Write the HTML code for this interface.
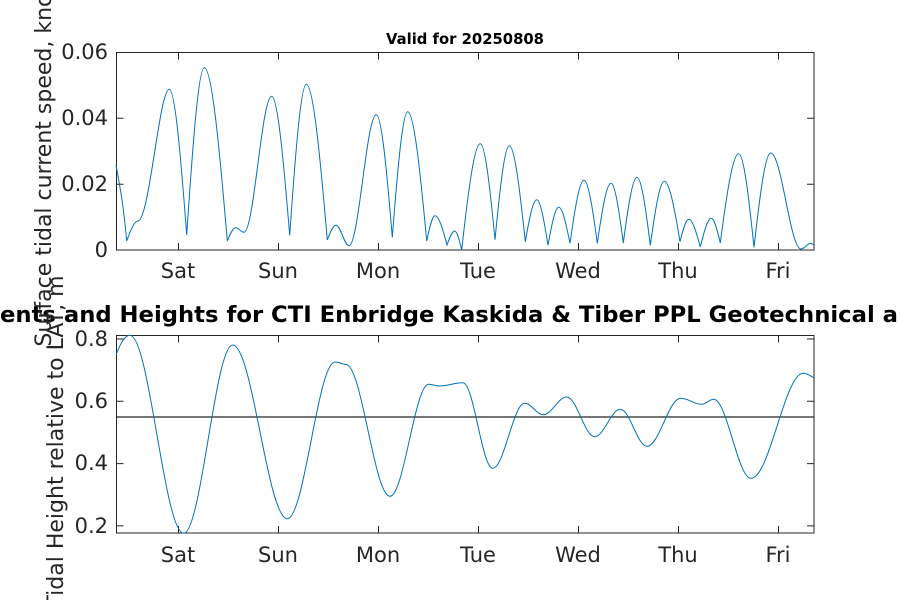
<!DOCTYPE html>
<html><head><meta charset="utf-8"><style>
html,body{margin:0;padding:0;background:#fff;}
svg{display:block;font-family:"DejaVu Sans","Liberation Sans",sans-serif;}
</style></head><body>
<svg width="900" height="600" viewBox="0 0 900 600" xmlns="http://www.w3.org/2000/svg">
<rect width="900" height="600" fill="#fff"/>
<text x="465" y="44" font-size="14.8" font-weight="bold" text-anchor="middle" fill="#000">Valid for 20250808</text>
<g stroke="#262626" stroke-width="1" fill="none">
<rect x="116.5" y="52.5" width="697.5" height="197.5"/>
<path d="M178.5 250v-7M278.5 250v-7M378.5 250v-7M478.5 250v-7M578.5 250v-7M678.5 250v-7M778.5 250v-7M178.5 52.5v7M278.5 52.5v7M378.5 52.5v7M478.5 52.5v7M578.5 52.5v7M678.5 52.5v7M778.5 52.5v7M116.5 52.5h7M116.5 118.3h7M116.5 184.2h7M814 52.5h-7M814 118.3h-7M814 184.2h-7"/>
</g>
<g font-size="21" fill="#262626">
<g text-anchor="end"><text x="108" y="59">0.06</text><text x="108" y="125">0.04</text><text x="108" y="191">0.02</text><text x="108" y="257">0</text></g>
<g text-anchor="middle"><text x="178" y="278">Sat</text><text x="278" y="278">Sun</text><text x="378" y="278">Mon</text><text x="478" y="278">Tue</text><text x="578" y="278">Wed</text><text x="678" y="278">Thu</text><text x="778" y="278">Fri</text></g>
</g>
<g stroke="#262626" stroke-width="1" fill="none">
<rect x="116.5" y="335.5" width="697.5" height="197.5"/>
<path d="M178.5 533v-7M278.5 533v-7M378.5 533v-7M478.5 533v-7M578.5 533v-7M678.5 533v-7M778.5 533v-7M178.5 335.5v7M278.5 335.5v7M378.5 335.5v7M478.5 335.5v7M578.5 335.5v7M678.5 335.5v7M778.5 335.5v7M116.5 339h7M116.5 401.3h7M116.5 463.6h7M116.5 525.9h7M814 339h-7M814 401.3h-7M814 463.6h-7M814 525.9h-7"/>
</g>
<line x1="116.5" y1="417" x2="814" y2="417" stroke="#262626" stroke-width="1.2"/>
<g font-size="21" fill="#262626">
<g text-anchor="end"><text x="108" y="346">0.8</text><text x="108" y="408">0.6</text><text x="108" y="470">0.4</text><text x="108" y="533">0.2</text></g>
<g text-anchor="middle"><text x="178" y="562">Sat</text><text x="278" y="562">Sun</text><text x="378" y="562">Mon</text><text x="478" y="562">Tue</text><text x="578" y="562">Wed</text><text x="678" y="562">Thu</text><text x="778" y="562">Fri</text></g>
</g>
<path fill="none" stroke="#0072bd" stroke-width="1" d="M116 165C119.6 185 123.1 201.2 126.7 241C130.5 230.5 134.2 221 138 221C149.3 221 159.3 89.3 169.3 89.3C175.1 89.3 180.9 158.6 186.7 235C192.6 147.3 198.4 67.7 204.3 67.7C212 67.7 219.6 150.2 227.3 241C230.1 234 232.9 227.7 235.7 227.7C238.7 227.7 241 232.3 244 232.3C254 232.3 261.7 96.3 271.7 96.3C277.7 96.3 283.7 162.5 289.7 235.3C295.2 156.2 300.8 84.3 306.3 84.3C313.3 84.3 320.3 158.4 327.3 240C330.2 232.3 333.1 225.3 336 225.3C340.7 225.3 344.3 245.7 349 245.7C358.8 245.7 366.5 114.7 376.3 114.7C381.6 114.7 387 173.1 392.3 237.3C397.4 171.5 402.6 111.7 407.7 111.7C414 111.7 420.4 173.2 426.7 241C429.5 227.7 432.2 215.7 435 215.7C439 215.7 443 229.6 447 245C449.6 237.7 452.1 231 454.7 231C457 231 459.4 240 461.7 250C467.9 194.3 474.1 143.7 480.3 143.7C485.2 143.7 490.1 189.4 495 239.7C499.8 190.4 504.5 145.7 509.3 145.7C514.6 145.7 520 191.4 525.3 241.7C529.1 219.7 532.9 199.7 536.7 199.7C540.5 199.7 544.2 221.4 548 245.3C551.6 225.4 555.1 207.3 558.7 207.3C562.5 207.3 566.2 224.4 570 243.3C574.7 210.3 579.3 180.3 584 180.3C588.4 180.3 592.9 210.3 597.3 243.3C601.9 211.9 606.4 183.3 611 183.3C615.1 183.3 619.2 211.7 623.3 243C627.9 208.6 632.4 177.3 637 177.3C641.4 177.3 645.9 209.7 650.3 245.3C655 211.8 659.6 181.3 664.3 181.3C669.5 181.3 674.8 210 680 241.7C682.9 230 685.8 219.3 688.7 219.3C692.6 219.3 696.4 232.5 700.3 247C704 232 707.6 218.3 711.3 218.3C714.3 218.3 717.3 230.1 720.3 243C726.4 196.2 732.6 153.7 738.7 153.7C743.8 153.7 748.9 198.3 754 247.3C759.6 197.9 765.1 153 770.7 153C781.6 153 790.1 249 801 249C804.6 249 807.4 243.3 811 243.3L814 245"/>
<path fill="none" stroke="#0072bd" stroke-width="1" d="M116 355C121 342 125 335.3 130 335.3C149.3 335.3 164.4 533.3 183.7 533.3C201.3 533.3 215.1 345 232.7 345C252.4 345 267.6 518.7 287.3 518.7C304.5 518.7 317.8 362 335 362C339 362 343 364.5 346 364.5C361.8 364.5 374.2 496.3 390 496.3C403.9 496.3 414.8 384.3 428.7 384.3C432.4 384.3 435.3 386 439 386C447.6 386 454.4 382.7 463 382.7C473.7 382.7 482 468.3 492.7 468.3C504.2 468.3 513.2 403.3 524.7 403.3C531.4 403.3 536.6 414.7 543.3 414.7C551.7 414.7 558.3 397 566.7 397C576.8 397 584.6 436.7 594.7 436.7C603.9 436.7 611.1 409.3 620.3 409.3C629.9 409.3 637.4 446.3 647 446.3C659.1 446.3 668.6 398.3 680.7 398.3C688.3 398.3 694.1 404.3 701.7 404.3C706 404.3 709.4 399.3 713.7 399.3C727.1 399.3 737.6 478.3 751 478.3C769.8 478.3 784.5 373.3 803.3 373.3C807.2 373.3 810.8 376 814 378"/>
<text x="0" y="322" font-size="22" font-weight="bold" fill="#000" textLength="898" lengthAdjust="spacingAndGlyphs">ents and Heights for CTI Enbridge  Kaskida &amp; Tiber PPL Geotechnical a</text>
<text transform="translate(51,160) rotate(-90)" font-size="22" fill="#262626" text-anchor="middle">Surface tidal current speed, knots</text>
<text transform="translate(63,442) rotate(-90)" font-size="22" fill="#262626" text-anchor="middle">Tidal Height relative to LAT, m</text>
</svg>
</body></html>
